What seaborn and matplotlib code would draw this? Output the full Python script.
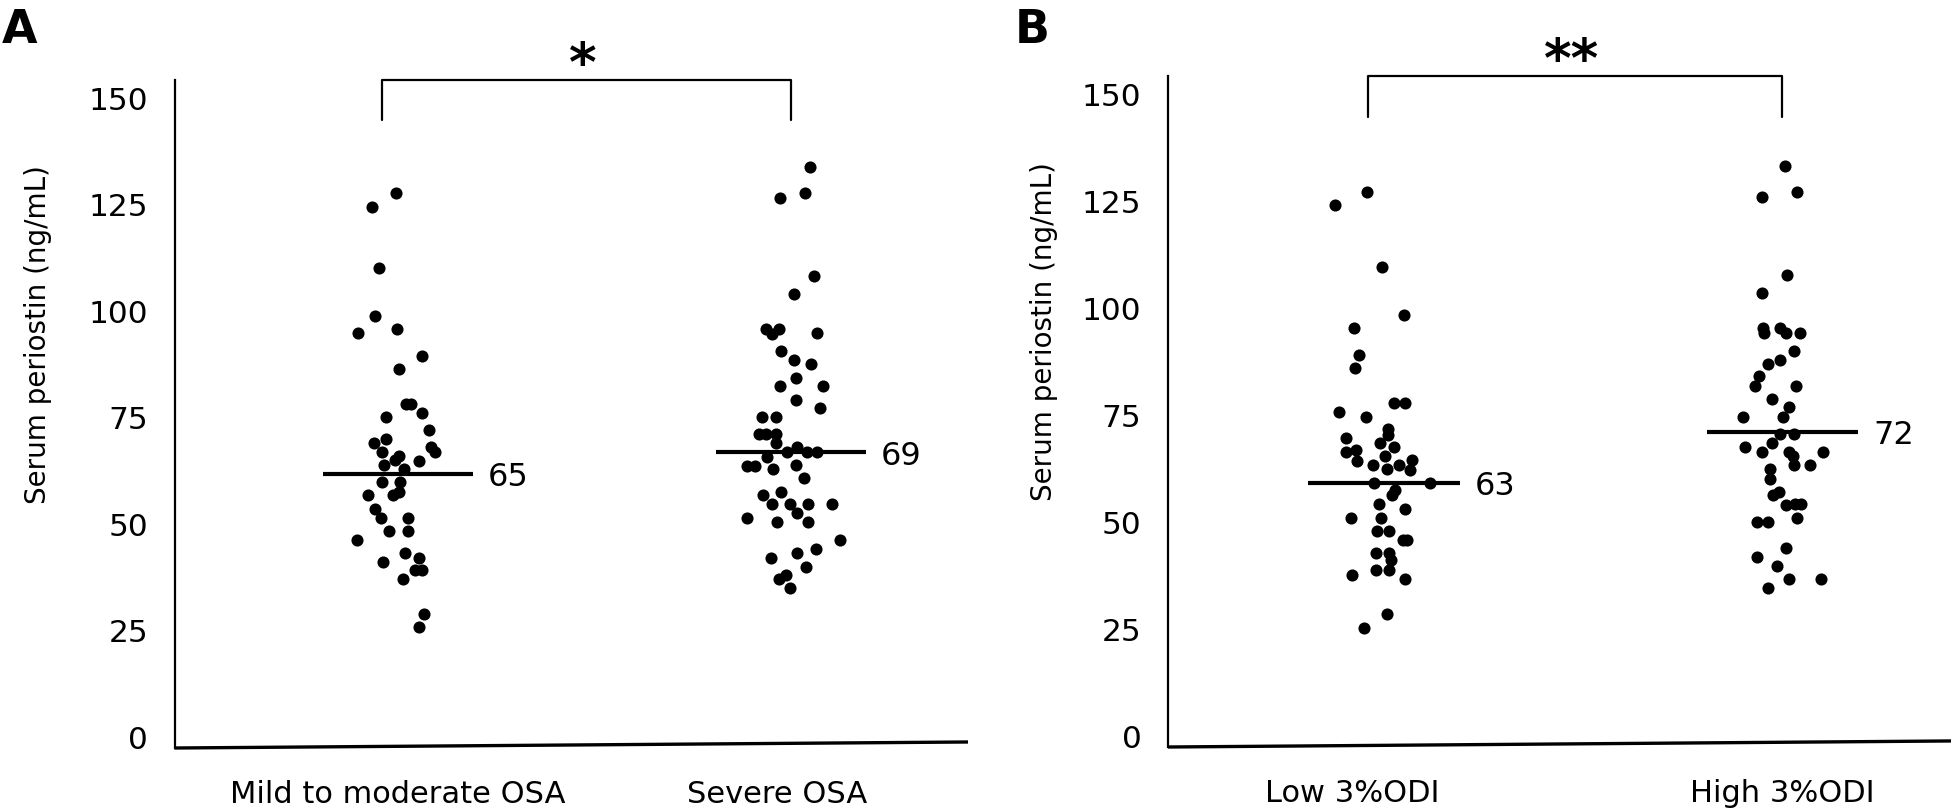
import numpy as np
import pandas as pd
import matplotlib.pyplot as plt
import seaborn as sns

# Panel A: OSA severity
cats_a = ["Mild to moderate OSA", "Severe OSA"]
mild_vals = [127.4, 124.3, 109.9, 98.6, 94.5, 95.5, 89.3, 86.2, 77.9, 77.9, 75.0, 75.8, 71.8, 69.8,
             68.7, 66.6, 67.9, 66.6, 65.8, 64.7, 63.7, 64.6, 62.7, 59.6, 59.6, 56.5, 56.5, 57.3,
             53.4, 51.2, 51.2, 48.1, 48.1, 46.1, 43.0, 40.9, 41.9, 38.9, 38.9, 36.8, 28.6, 25.5]
mild_jit = [-0.005, -0.067, -0.048, -0.059, -0.101, -0.002, 0.061, 0.003, 0.020, 0.033, -0.031, 0.062,
            0.079, -0.032, -0.061, -0.042, 0.084, 0.094, 0.001, -0.008, -0.035, 0.053, 0.016, -0.041,
            0.005, -0.076, -0.014, 0.001, -0.058, -0.044, 0.024, -0.022, 0.024, -0.104, 0.018, -0.038,
            0.052, 0.043, 0.060, 0.013, 0.067, 0.052]
severe_vals = [133.6, 126.4, 127.4, 107.9, 103.7, 95.5, 94.3, 95.5, 94.5, 90.4, 88.3, 87.3, 84.1, 82.1,
               82.1, 79.0, 76.9, 75.0, 75.0, 70.9, 70.9, 70.9, 68.8, 66.6, 67.8, 66.6, 66.6, 65.5,
               63.5, 63.5, 62.6, 63.7, 60.5, 56.5, 57.4, 54.4, 54.4, 54.4, 54.4, 52.3, 51.2, 50.2,
               50.2, 46.1, 44.0, 42.9, 41.9, 39.8, 37.9, 36.8, 34.8]
severe_jit = [0.049, -0.028, 0.036, 0.057, 0.006, -0.064, -0.049, -0.032, 0.065, -0.026, 0.008, 0.050,
              0.013, -0.028, 0.081, 0.013, 0.074, -0.075, -0.038, -0.081, -0.064, -0.038, -0.039,
              -0.011, 0.016, 0.040, 0.065, -0.062, -0.113, -0.093, -0.047, 0.013, 0.033, -0.072,
              -0.026, -0.049, -0.004, 0.042, 0.103, 0.015, -0.113, -0.035, 0.042, 0.125, 0.064,
              0.015, -0.052, 0.038, -0.013, -0.032, -0.004]
line_a = [61.5, 66.6]
label_a = ["65", "69"]

# Panel B: 3% ODI
cats_b = ["Low 3%ODI", "High 3%ODI"]
low_vals = [126.8, 123.8, 109.4, 98.1, 95.0, 88.9, 85.8, 77.5, 77.5, 75.4, 74.4, 71.5, 70.2, 69.4,
            68.3, 67.3, 66.2, 66.5, 64.1, 65.2, 63.1, 62.1, 63.1, 64.3, 62.0, 58.9, 58.9, 57.2,
            56.1, 53.9, 52.9, 50.8, 50.8, 47.7, 47.7, 45.6, 45.6, 42.6, 42.6, 40.8, 37.4, 38.5,
            38.5, 36.4, 28.2, 25.0]
low_jit = [-0.042, -0.123, -0.004, 0.050, -0.076, -0.063, -0.072, 0.025, 0.054, -0.113, -0.044, 0.010,
           0.009, -0.095, -0.010, 0.026, -0.095, -0.070, -0.067, 0.003, -0.027, 0.008, 0.038, 0.070,
           0.065, -0.024, 0.116, 0.028, 0.019, -0.013, 0.053, -0.083, -0.008, -0.017, 0.012, 0.047,
           0.057, -0.020, 0.013, 0.018, -0.080, -0.020, 0.013, 0.053, 0.008, -0.049]
high_vals = [133.0, 125.8, 126.8, 107.4, 103.2, 95.0, 93.9, 95.0, 93.9, 93.9, 89.8, 87.7, 86.7, 83.8,
             81.6, 81.6, 78.5, 76.6, 74.4, 74.4, 70.4, 70.4, 68.2, 67.4, 66.2, 66.2, 65.2, 66.2,
             63.2, 63.2, 62.2, 59.9, 56.0, 56.9, 53.8, 54.0, 54.0, 50.8, 49.7, 49.7, 43.6, 41.5,
             39.4, 36.4, 36.4, 34.4]
high_jit = [0.007, -0.052, 0.037, 0.012, -0.051, -0.048, -0.046, -0.006, 0.009, 0.044, 0.028, -0.006,
            -0.035, -0.060, -0.068, 0.033, -0.026, 0.016, 0.002, -0.100, -0.006, 0.029, -0.026,
            -0.093, -0.051, 0.016, 0.027, 0.102, 0.029, 0.068, -0.031, -0.031, -0.023, -0.008,
            0.009, 0.031, 0.046, 0.036, -0.063, -0.036, 0.009, -0.065, -0.013, 0.016, 0.098, -0.037]
line_b = [58.9, 70.9]
label_b = ["63", "72"]

y_ticks = [0, 25, 50, 75, 100, 125, 150]

sns.set_style("white", {"text.color": "black", "axes.labelcolor": "black",
                        "xtick.color": "black", "ytick.color": "black"})
plt.rcParams['font.family'] = ['DejaVu Sans']

fig = plt.figure(figsize=(19.54, 8.12), dpi=100)
ax_a = fig.add_axes([174.5 / 1954, 1 - 749 / 812, (968 - 174.5) / 1954, 668 / 812])
ax_b = fig.add_axes([1168 / 1954, 1 - 748 / 812, (1951 - 1168) / 1954, 671 / 812])


def draw_panel(ax, cats, vals, jits, line_vals, line_labels, stars, xlim, label_shift, ylab_x):
    rows = []
    for i, (v, j) in enumerate(zip(vals, jits)):
        rows.append(pd.DataFrame({"group": cats[i], "value": v, "jit": j}))
    df = pd.concat(rows, ignore_index=True)
    df["x"] = df["group"].map({c: i for i, c in enumerate(cats)}) + df["jit"]

    sns.scatterplot(data=df, x="x", y="value", color="black", s=76, linewidth=0,
                    legend=False, ax=ax, zorder=3)

    # median bars with labels
    pos = np.arange(len(cats))
    ax.hlines(line_vals, pos - 0.19, pos + 0.19, color="black", lw=3, zorder=4)
    for p, v, t in zip(pos, line_vals, line_labels):
        ax.annotate(t, (p + 0.19, v), xytext=(11, -2), textcoords="offset points",
                    ha="left", va="center", fontsize=23, color="black")

    # significance bracket
    ax.plot([pos[0] - 0.04, pos[0] - 0.04, pos[1], pos[1]],
            [144.5, 154, 154, 144.5], color="black", lw=1.6, clip_on=False)
    ax.text(pos.mean() - 0.03, 154, stars, ha="center", va="baseline", fontsize=38,
            fontweight="bold", color="black", clip_on=False)

    ax.set_xlim(*xlim)
    ax.set_ylim(-2.8, 154)
    ax.set_yticks(y_ticks)
    ax.set_xticks(pos + np.array(label_shift))
    ax.set_xticklabels(cats)
    ax.set_xlabel("")
    ax.set_ylabel("Serum periostin (ng/mL)", fontsize=20)
    ax.yaxis.set_label_coords(ylab_x, 0.62)
    ax.tick_params(axis="y", length=0, pad=19, labelsize=22.5)
    ax.tick_params(axis="x", length=0, pad=22, labelsize=22)
    for s in ["top", "right", "bottom"]:
        ax.spines[s].set_visible(False)
    ax.spines["left"].set_linewidth(1.6)
    ax.spines["left"].set_color("black")
    # slightly tilted baseline as in the original
    ax.plot([0, 1], [0, 0.009], transform=ax.transAxes, color="black", lw=2.4,
            clip_on=False, solid_capstyle="butt")


draw_panel(ax_a, cats_a, [mild_vals, severe_vals], [mild_jit, severe_jit],
           line_a, label_a, "*", (-0.569, 1.45), [0.0, -0.036], -0.155)
draw_panel(ax_b, cats_b, [low_vals, high_vals], [low_jit, high_jit],
           line_b, label_b, "**", (-0.542, 1.423), [-0.08, 0.0], -0.14)

fig.text(0.001, 0.99, "A", fontsize=33, fontweight="bold", va="top", ha="left", color="black")
fig.text(0.5195, 0.99, "B", fontsize=33, fontweight="bold", va="top", ha="left", color="black")

fig.savefig("out.png", dpi=100)
